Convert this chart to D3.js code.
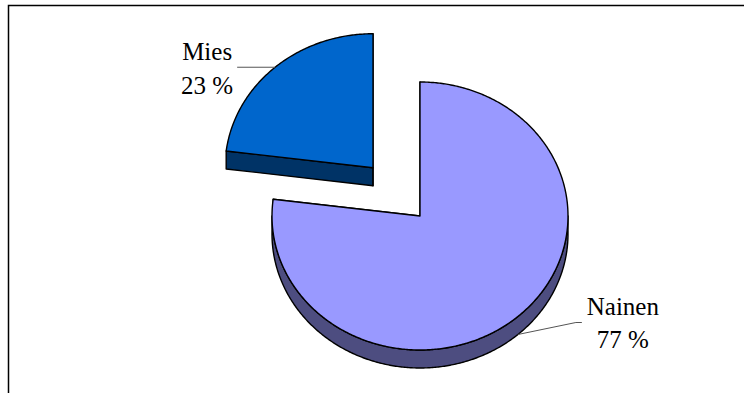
<!DOCTYPE html>
<html>
<head>
<meta charset="utf-8">
<script src="https://cdn.jsdelivr.net/npm/d3@7/dist/d3.min.js"></script>
<style>
  html, body { margin: 0; padding: 0; background: #fff; }
  svg { display: block; }
  text { font-family: "Liberation Serif", "Times New Roman", serif; fill: #000; }
</style>
</head>
<body>
<svg id="chart" width="744" height="394"></svg>
<script>
// Gender split
const categories = ["Nainen", "Mies"];
const values = [77, 23];
const valueLabels = ["77 %", "23 %"];

const W = 744, H = 394;
const svg = d3.select("#chart");

// Chart frame (open at right and bottom)
svg.append("path")
  .attr("d", `M8.5,393 V5.5 H744`)
  .attr("fill", "none")
  .attr("stroke", "#000")
  .attr("stroke-width", 1.5);

// Tilted 3D pie geometry
const cx = 420, cy = 216, rx = 148, ry = 134, depth = 18;
const topColors = ["#9999FF", "#0066CC"];
const sideColors = ["#4D4D80", "#003366"];
const explode = [0, 0.48];

const pie = d3.pie().sort(null).startAngle(0).endAngle(2 * Math.PI);
const arcs = pie(values);

const pt = (a, ox, oy, dy = 0) => [ox + rx * Math.sin(a), oy - ry * Math.cos(a) + dy];
function arcPts(a0, a1, ox, oy, dy = 0) {
  const n = Math.max(2, Math.ceil((a1 - a0) / 0.01));
  return d3.range(n + 1).map(i => pt(a0 + (a1 - a0) * i / n, ox, oy, dy));
}
const line = d3.line().curve(d3.curveLinearClosed);

// Slice centres after exploding along the mid angle
const slices = arcs.map((d, i) => {
  const mid = (d.startAngle + d.endAngle) / 2;
  const ox = cx + explode[i] * rx * Math.sin(mid);
  const oy = cy - explode[i] * ry * Math.cos(mid);
  return { d, i, mid, ox, oy };
});

const g = svg.append("g")
  .attr("stroke", "#000")
  .attr("stroke-width", 1.4)
  .attr("stroke-linejoin", "round");

// Back slice first so the front one paints over it
const order = slices.slice().sort((a, b) => a.oy - b.oy);
order.forEach(s => {
  const { d, i, ox, oy } = s;
  const a0 = d.startAngle, a1 = d.endAngle;
  // radial cut faces
  [a0, a1].forEach(a => {
    const p = pt(a, ox, oy);
    g.append("path")
      .attr("d", line([[ox, oy], p, [p[0], p[1] + depth], [ox, oy + depth]]))
      .attr("fill", sideColors[i]);
  });
  // visible outer wall (front half of the ellipse)
  const s0 = Math.max(a0, Math.PI / 2), s1 = Math.min(a1, 3 * Math.PI / 2);
  if (s1 > s0) {
    const upper = arcPts(s0, s1, ox, oy);
    const lower = arcPts(s0, s1, ox, oy, depth).reverse();
    g.append("path")
      .attr("d", line(upper.concat(lower)))
      .attr("fill", sideColors[i]);
  }
  // top face
  g.append("path")
    .attr("d", line([[ox, oy]].concat(arcPts(a0, a1, ox, oy))))
    .attr("fill", topColors[i]);
});

// Leader lines and labels
const fontSize = 25;
slices.forEach(s => {
  const { i, mid, ox, oy } = s;
  const onRight = Math.sin(mid) > 0;
  const front = Math.cos(mid) < 0;
  const p = pt(mid, ox, oy, front ? depth : 0);
  let pts, tx, ty;
  if (onRight) {
    const elbow = [p[0] + 58, p[1] - 12];
    const end = [elbow[0] + 6, elbow[1]];
    pts = [p, elbow, end];
    tx = end[0] + 41; ty = end[1] - 8;
  } else {
    const end = [p[0] - 38, p[1]];
    pts = [p, end];
    tx = end[0] - 30; ty = end[1] - 7;
  }
  svg.append("path")
    .attr("d", d3.line()(pts))
    .attr("fill", "none")
    .attr("stroke", "#555")
    .attr("stroke-width", 1);
  const t = svg.append("text")
    .attr("text-anchor", "middle")
    .attr("font-size", fontSize);
  t.append("tspan").attr("x", tx).attr("y", ty).text(categories[i]);
  t.append("tspan").attr("x", tx).attr("y", ty + 33.5).text(valueLabels[i]);
});
</script>
</body>
</html>
